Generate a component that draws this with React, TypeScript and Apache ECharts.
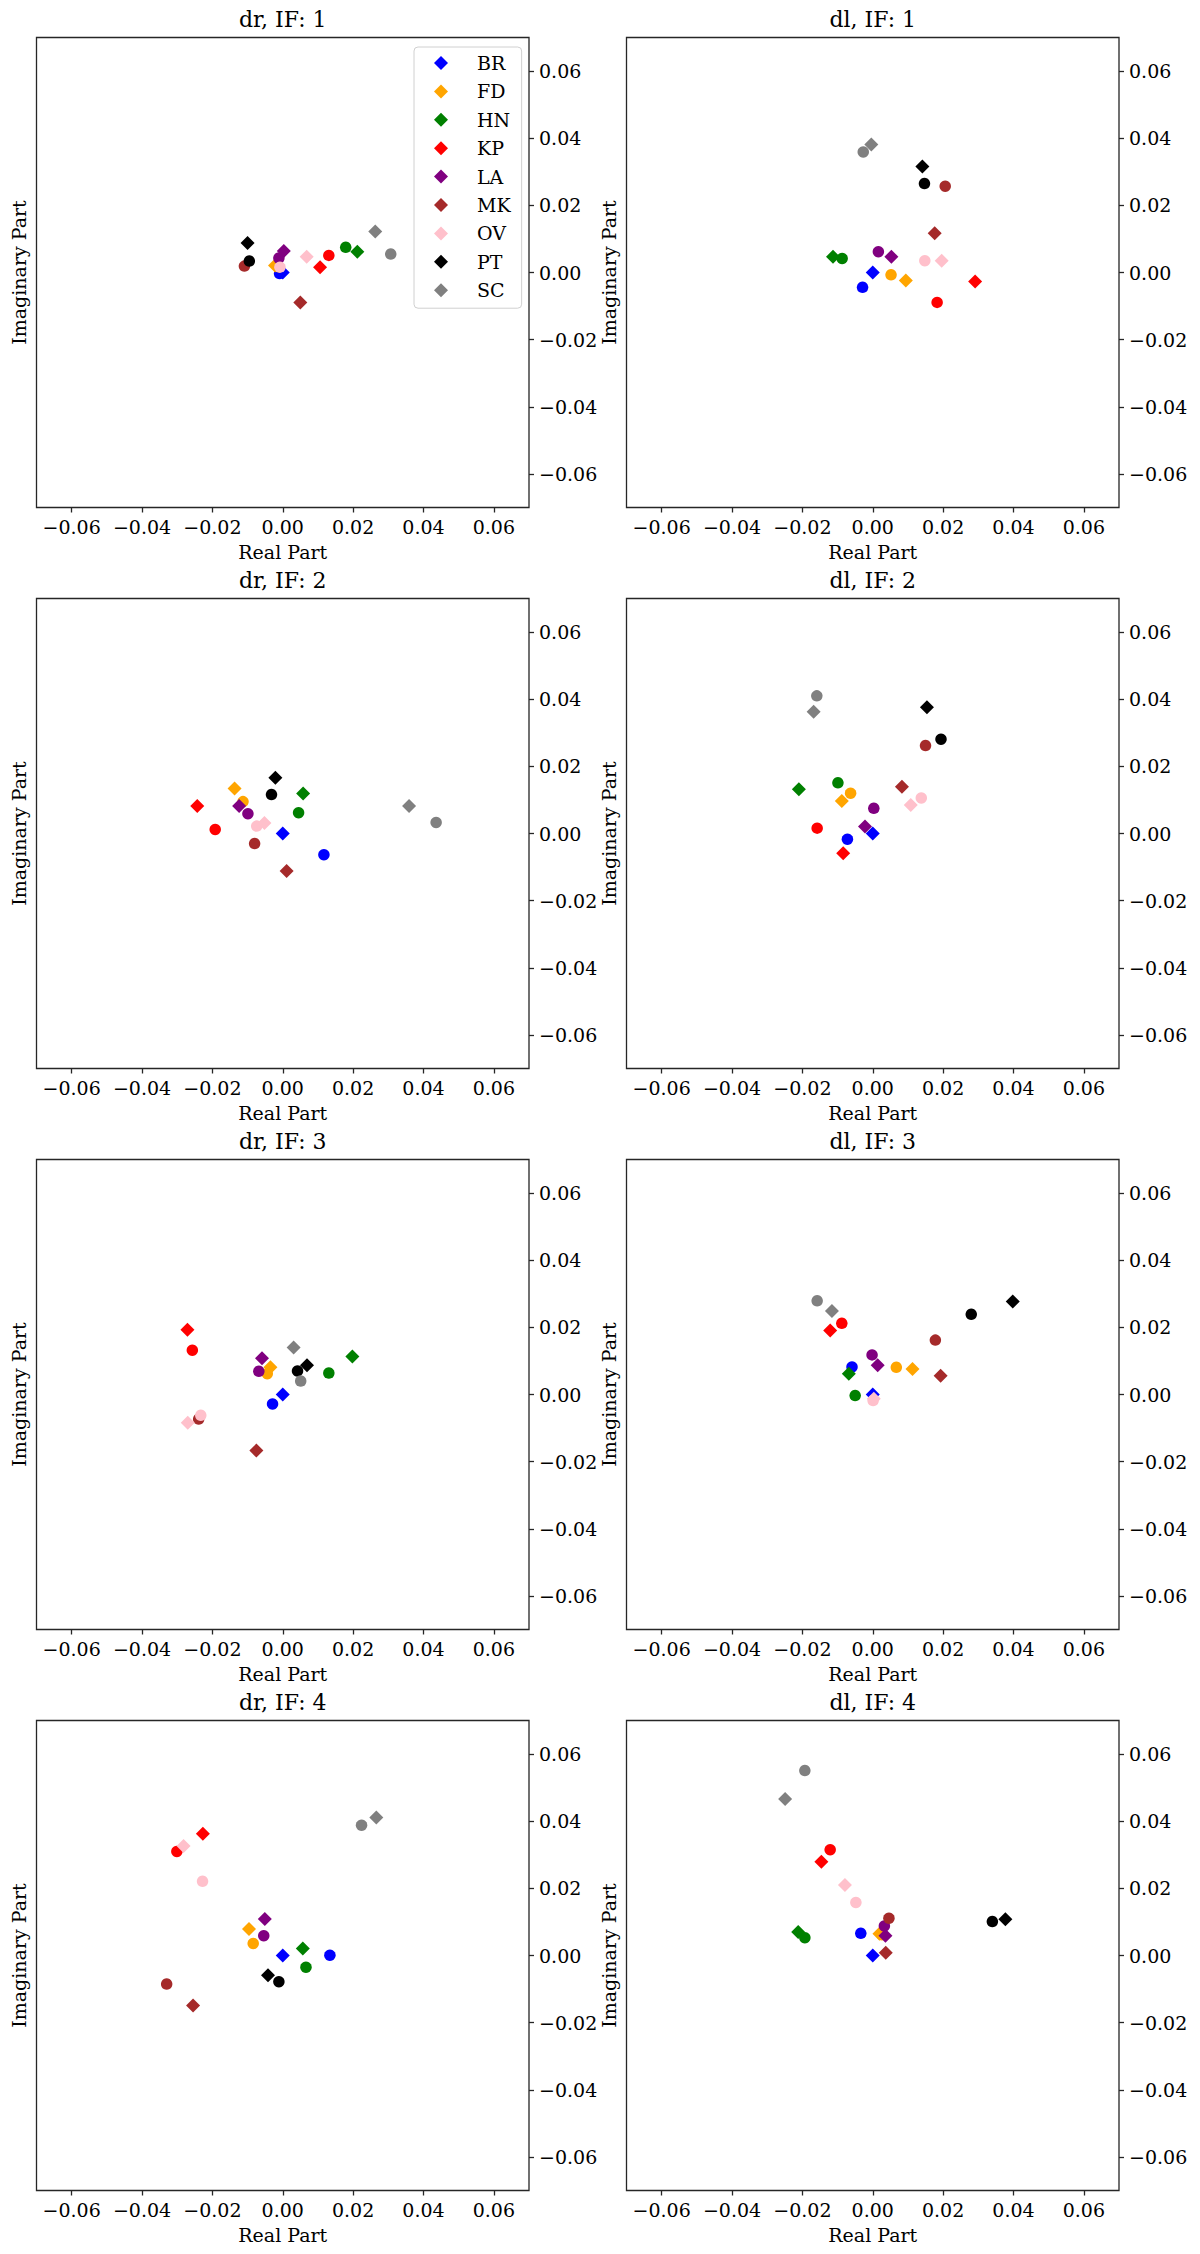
import React, { useEffect, useRef } from 'react';
import * as echarts from 'echarts';

const stations = ['BR', 'FD', 'HN', 'KP', 'LA', 'MK', 'OV', 'PT', 'SC'];
const stationColors = ['#0000ff', '#ffa500', '#008000', '#ff0000', '#800080', '#a52a2a', '#ffc0cb', '#000000', '#808080'];
const panelTitles = ['dr, IF: 1', 'dl, IF: 1', 'dr, IF: 2', 'dl, IF: 2', 'dr, IF: 3', 'dl, IF: 3', 'dr, IF: 4', 'dl, IF: 4'];
const tickValues = [-0.06, -0.04, -0.02, 0, 0.02, 0.04, 0.06];

// [real, imag] per station, in the order of `stations`
const drIF1Diamond = [[0, 0], [-0.0022, 0.0021], [0.0212, 0.0062], [0.0106, 0.0016], [0.0003, 0.0064], [0.005, -0.0089], [0.0068, 0.0047], [-0.01, 0.0088], [0.0263, 0.0122]];
const drIF1Circle = [[-0.0009, -0.0003], [-0.0012, 0.0017], [0.0179, 0.0075], [0.0131, 0.0051], [-0.0011, 0.0043], [-0.0109, 0.0019], [-0.0008, 0.0016], [-0.0095, 0.0034], [0.0307, 0.0055]];

const dlIF1Diamond = [[0, 0], [0.0094, -0.0024], [-0.0113, 0.0047], [0.0291, -0.0027], [0.0053, 0.0047], [0.0176, 0.0117], [0.0196, 0.0035], [0.0141, 0.0316], [-0.0004, 0.0381]];
const dlIF1Circle = [[-0.0029, -0.0044], [0.0052, -0.0007], [-0.0087, 0.0042], [0.0183, -0.0089], [0.0016, 0.0062], [0.0206, 0.0257], [0.0148, 0.0035], [0.0147, 0.0265], [-0.0027, 0.0359]];

const drIF2Diamond = [[0, 0], [-0.0137, 0.0134], [0.0058, 0.0119], [-0.0243, 0.0082], [-0.0124, 0.0082], [0.0011, -0.0112], [-0.0052, 0.0031], [-0.0021, 0.0166], [0.0359, 0.0082]];
const drIF2Circle = [[0.0117, -0.0063], [-0.0113, 0.0095], [0.0045, 0.0062], [-0.0192, 0.0012], [-0.0099, 0.0059], [-0.008, -0.003], [-0.0074, 0.0022], [-0.0032, 0.0116], [0.0436, 0.0033]];

const dlIF2Diamond = [[0, 0], [-0.0088, 0.0097], [-0.021, 0.0132], [-0.0084, -0.0059], [-0.0022, 0.0021], [0.0083, 0.0139], [0.0108, 0.0085], [0.0154, 0.0376], [-0.0168, 0.0363]];
const dlIF2Circle = [[-0.0072, -0.0017], [-0.0063, 0.012], [-0.0099, 0.0151], [-0.0158, 0.0016], [0.0003, 0.0075], [0.015, 0.0262], [0.0138, 0.0106], [0.0194, 0.0281], [-0.0159, 0.041]];

const drIF3Diamond = [[0, 0], [-0.0035, 0.0081], [0.0198, 0.0113], [-0.0271, 0.0193], [-0.0059, 0.0108], [-0.0075, -0.0167], [-0.027, -0.0084], [0.0069, 0.0087], [0.0031, 0.014]];
const drIF3Circle = [[-0.0029, -0.0028], [-0.0044, 0.0062], [0.0131, 0.0064], [-0.0257, 0.0132], [-0.0068, 0.0069], [-0.0239, -0.0073], [-0.0233, -0.0062], [0.0042, 0.007], [0.0051, 0.004]];

const dlIF3Diamond = [[0, 0], [0.0113, 0.0076], [-0.0068, 0.0062], [-0.0121, 0.0191], [0.0014, 0.0087], [0.0193, 0.0056], [0.0003, -0.0013], [0.0398, 0.0277], [-0.0116, 0.0249]];
const dlIF3Circle = [[-0.0059, 0.0082], [0.0067, 0.0081], [-0.005, -0.0003], [-0.0088, 0.0212], [-0.0002, 0.0118], [0.0178, 0.0162], [0.0001, -0.0018], [0.028, 0.0239], [-0.0158, 0.0279]];

const drIF4Diamond = [[0, 0], [-0.0096, 0.0079], [0.0057, 0.0021], [-0.0227, 0.0363], [-0.0051, 0.0109], [-0.0255, -0.0149], [-0.0282, 0.0326], [-0.0042, -0.0059], [0.0266, 0.0411]];
const drIF4Circle = [[0.0134, 0.0001], [-0.0084, 0.0036], [0.0066, -0.0035], [-0.0301, 0.031], [-0.0054, 0.0059], [-0.033, -0.0085], [-0.0228, 0.0221], [-0.0011, -0.0078], [0.0224, 0.0388]];

const dlIF4Diamond = [[0, 0], [0.0019, 0.0065], [-0.0212, 0.007], [-0.0146, 0.0279], [0.0036, 0.0059], [0.0037, 0.0008], [-0.0079, 0.021], [0.0377, 0.0108], [-0.0249, 0.0466]];
const dlIF4Circle = [[-0.0034, 0.0066], [0.0026, 0.0062], [-0.0193, 0.0053], [-0.0121, 0.0315], [0.0033, 0.0088], [0.0046, 0.0111], [-0.0048, 0.0158], [0.034, 0.0101], [-0.0193, 0.0551]];

const panelDiamonds = [drIF1Diamond, dlIF1Diamond, drIF2Diamond, dlIF2Diamond, drIF3Diamond, dlIF3Diamond, drIF4Diamond, dlIF4Diamond];
const panelCircles = [drIF1Circle, dlIF1Circle, drIF2Circle, dlIF2Circle, drIF3Circle, dlIF3Circle, drIF4Circle, dlIF4Circle];

const FONT = 'DejaVu Serif';
const colLeft = [36.5, 626.5];
const rowTop = [37.5, 598.5, 1159.5, 1720.5];
const GRID_W = 492.5;
const GRID_H = 470;
const SPINE = '#262626';

const fmt = (v: number) => {
  const s = Math.abs(v).toFixed(2);
  return v < -1e-9 ? '\u2212' + s : s;
};

const App: React.FC = () => {
  const chartRef = useRef<HTMLDivElement>(null);

  useEffect(() => {
    if (!chartRef.current) return;
    const chart = echarts.init(chartRef.current, undefined, { renderer: 'svg' });

    const grids: any[] = [];
    const xAxes: any[] = [];
    const yAxes: any[] = [];
    const titles: any[] = [];
    const series: any[] = [];

    panelTitles.forEach((title, i) => {
      const left = colLeft[i % 2];
      const top = rowTop[Math.floor(i / 2)];
      grids.push({ left, top, width: GRID_W, height: GRID_H, show: true, borderColor: SPINE, borderWidth: 1.3, backgroundColor: '#fff' });
      titles.push({
        text: title,
        left: left + GRID_W / 2,
        top: top - 29,
        textAlign: 'center',
        padding: 0,
        textStyle: { fontFamily: FONT, fontSize: 22, fontWeight: 'normal', color: '#000' },
      });
      xAxes.push({
        type: 'value',
        gridIndex: i,
        position: 'bottom',
        min: -0.07,
        max: 0.07,
        axisLine: { show: false, onZero: false },
        splitLine: { show: false },
        axisTick: { show: true, length: 5, customValues: tickValues, lineStyle: { color: SPINE, width: 1.3 } },
        axisLabel: { customValues: tickValues, formatter: fmt, margin: 10, fontFamily: FONT, fontSize: 19, color: '#000' },
        name: 'Real Part',
        nameLocation: 'middle',
        nameGap: 35,
        nameTextStyle: { fontFamily: FONT, fontSize: 19, color: '#000' },
      });
      yAxes.push({
        type: 'value',
        gridIndex: i,
        position: 'right',
        min: -0.07,
        max: 0.07,
        axisLine: { show: false, onZero: false },
        splitLine: { show: false },
        axisTick: { show: true, length: 5, customValues: tickValues, lineStyle: { color: SPINE, width: 1.3 } },
        axisLabel: { customValues: tickValues, formatter: fmt, margin: 10, fontFamily: FONT, fontSize: 19, color: '#000' },
      });
      yAxes.push({
        type: 'value',
        gridIndex: i,
        position: 'left',
        min: -0.07,
        max: 0.07,
        axisLine: { show: false, onZero: false },
        axisTick: { show: false },
        axisLabel: { show: false },
        splitLine: { show: false },
        name: 'Imaginary Part',
        nameLocation: 'middle',
        nameRotate: 90,
        nameGap: 8,
        nameTextStyle: { fontFamily: FONT, fontSize: 19, color: '#000' },
      });

      stations.forEach((st, k) => {
        const color = stationColors[k];
        series.push({
          type: 'scatter',
          name: st,
          xAxisIndex: i,
          yAxisIndex: 2 * i,
          symbol: 'diamond',
          symbolSize: 14,
          itemStyle: { color, opacity: 1 },
          silent: true,
          data: [panelDiamonds[i][k]],
        });
        series.push({
          type: 'scatter',
          name: st,
          xAxisIndex: i,
          yAxisIndex: 2 * i,
          symbol: 'circle',
          symbolSize: 11.5,
          itemStyle: { color, opacity: 1 },
          silent: true,
          data: [panelCircles[i][k]],
        });
      });
    });

    chart.setOption({
      animation: false,
      backgroundColor: '#fff',
      title: titles,
      grid: grids,
      xAxis: xAxes,
      yAxis: yAxes,
      legend: {
        data: stations,
        orient: 'vertical',
        left: 414,
        top: 47,
        icon: 'diamond',
        itemWidth: 14,
        itemHeight: 14,
        itemGap: 8.4,
        padding: [6, 11, 8, 20],
        borderColor: '#d0d0d0',
        borderWidth: 1,
        borderRadius: 4,
        backgroundColor: 'rgba(255,255,255,0.8)',
        selectedMode: false,
        formatter: (name: string) => `{s| }${name}`,
        textStyle: {
          fontFamily: FONT,
          fontSize: 19,
          lineHeight: 20,
          color: '#000',
          rich: { s: { width: 24, lineHeight: 20 } },
        },
      },
      series,
    });

    return () => {
      chart.dispose();
    };
  }, []);

  return (
    <div
      ref={chartRef}
      style={{ position: 'absolute', left: 0, top: 0, width: 1200, height: 2254, background: '#fff' }}
    />
  );
};

export default App;
